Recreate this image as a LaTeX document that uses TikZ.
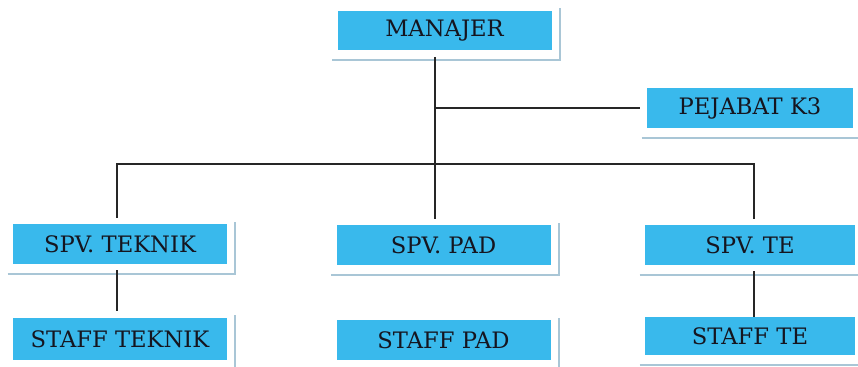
\documentclass[tikz,border=0pt]{standalone}
\usepackage{fontspec}
\setmainfont{DejaVu Serif}
\usepackage{tikz}
\usetikzlibrary{positioning}

\definecolor{boxblue}{HTML}{39B9EC}
\definecolor{boxframe}{HTML}{A9C6D6}
\definecolor{boxtext}{HTML}{15151F}

\begin{document}
\begin{tikzpicture}[x=0.75pt,y=-0.75pt]
\tikzstyle{unit} = [rectangle, fill=boxblue, text=boxtext, minimum width=160.5pt, minimum height=29.5pt, inner sep=0pt, outer sep=0pt, font=\fontsize{17}{20}\selectfont];%
\tikzstyle{link} = [line width=1.3pt, black!85, shorten <=5pt, shorten >=5pt];%
\tikzstyle{frame} = [line width=1.5pt, boxframe];%

\useasboundingbox (0,0) rectangle (858,367);

\node at (444.5,30.5) [unit] (manajer) {MANAJER};
\node at (750,108) [unit, minimum width=154.5pt] (pejabat) {PEJABAT K3};
\node at (120,244) [unit] (spvteknik) {SPV. TEKNIK};
\node at (443.5,245) [unit] (spvpad) {SPV. PAD};
\node at (750,245) [unit, minimum width=157.5pt] (spvte) {SPV. TE};
\node at (120,339) [unit, minimum height=31.5pt] (staffteknik) {STAFF TEKNIK};
\node at (443.5,340) [unit] (staffpad) {STAFF PAD};
\node at (750,336) [unit, minimum width=157.5pt, minimum height=28.5pt] (staffte) {STAFF TE};

% shadow frames
\foreach \n in {manajer,pejabat,spvteknik,spvpad,spvte,staffteknik,staffpad,staffte}
  \draw[frame] ([xshift=-4pt,yshift=-7.5pt]\n.south west) -- ([xshift=6pt,yshift=-7.5pt]\n.south east) -- ([xshift=6pt,yshift=2pt]\n.north east);

\coordinate (trunk) at (435,0);
\coordinate (bus) at (0,164);

\draw[link] (manajer.south -| trunk) -- (spvpad.north -| trunk);
\draw[link, shorten <=0pt] (trunk |- pejabat.west) -- (pejabat.west);
\draw[link] ([xshift=-2pt]spvteknik.north) |- (bus -| trunk) -| ([xshift=3pt]spvte.north);
\draw[link] ([xshift=-2pt]spvteknik.south) -- ([xshift=-2pt]staffteknik.north);
\draw[link, shorten >=0pt] ([xshift=3pt]spvte.south) -- ([xshift=3pt]staffte.north);

\end{tikzpicture}
\end{document}
